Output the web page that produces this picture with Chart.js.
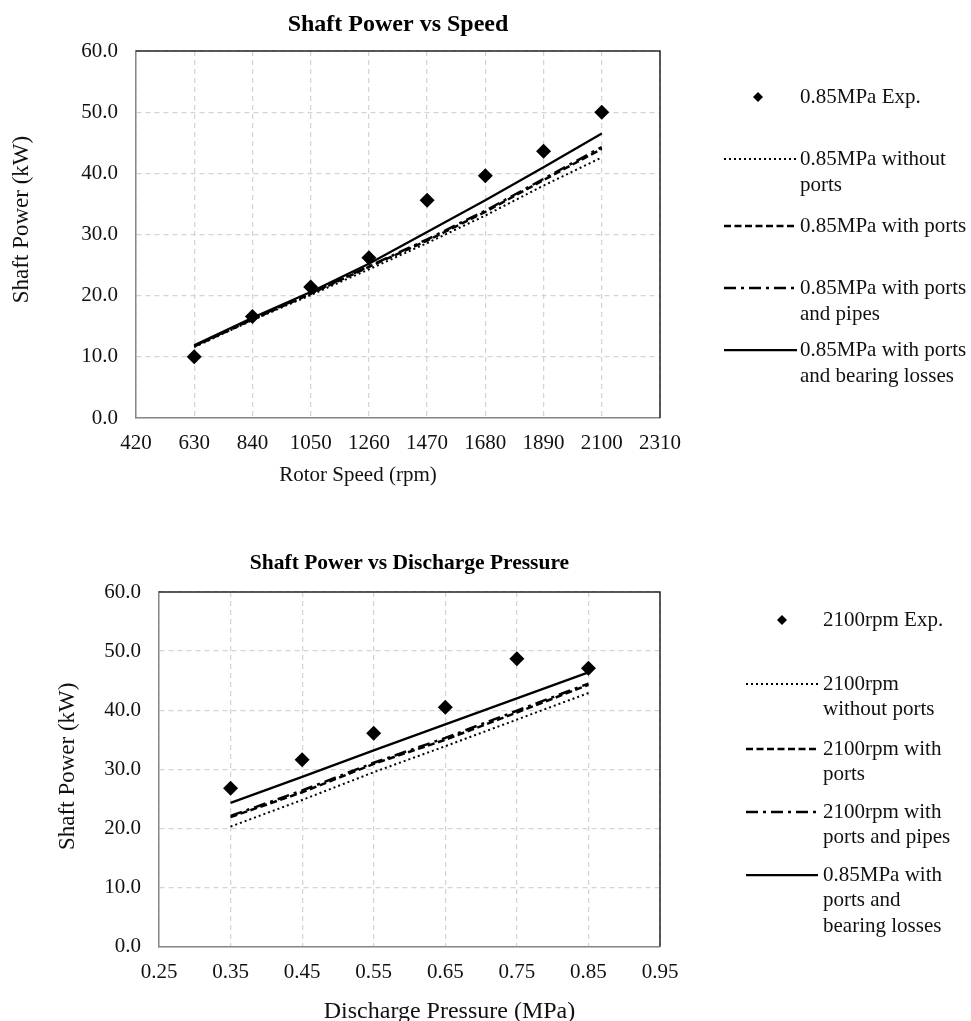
<!DOCTYPE html>
<html>
<head>
<meta charset="utf-8">
<script src="https://cdn.jsdelivr.net/npm/chart.js@4.4.1/dist/chart.umd.min.js"></script>
<style>
  html, body { margin: 0; padding: 0; background: #fff; }
  body { width: 971px; height: 1021px; position: relative; overflow: hidden; }
  .box { position: absolute; left: 0; width: 971px; }
</style>
</head>
<body>
<div class="box" style="top:0;height:500px"><canvas id="speedChart"></canvas></div>
<div class="box" style="top:500px;height:521px"><canvas id="pressureChart"></canvas></div>
<script>
// --- data ---
const powerTicks = [0, 10, 20, 30, 40, 50, 60];

const speedTicks = [420, 630, 840, 1050, 1260, 1470, 1680, 1890, 2100, 2310];
const speedRpm = [630, 840, 1050, 1260, 1470, 1680, 1890, 2100];
const speedExp = [10.0, 16.6, 21.4, 26.2, 35.6, 39.6, 43.6, 50.0];
const speedNoPorts = [11.6, 16.0, 20.1, 24.3, 28.6, 33.1, 38.0, 42.6];
const speedPorts = [11.7, 16.1, 20.3, 24.7, 29.0, 33.7, 38.9, 44.0];
const speedPipes = [11.8, 16.2, 20.4, 24.8, 29.2, 33.9, 39.1, 44.3];
const speedBearing = [11.9, 16.4, 20.6, 25.2, 30.4, 35.6, 41.0, 46.5];
const speedLabels = [
    '0.85MPa Exp.',
    '0.85MPa without\nports',
    '0.85MPa with ports',
    '0.85MPa with ports\nand pipes',
    '0.85MPa with ports\nand bearing losses'
];

const pressureTicks = [0.25, 0.35, 0.45, 0.55, 0.65, 0.75, 0.85, 0.95];
const pressureMPa = [0.35, 0.45, 0.55, 0.65, 0.75, 0.85];
const pressureExp = [26.8, 31.6, 36.1, 40.5, 48.7, 47.1];
const pressureNoPorts = [20.3, 24.8, 29.5, 33.9, 38.4, 42.9];
const pressurePorts = [21.9, 26.1, 30.9, 35.0, 39.6, 44.3];
const pressurePipes = [22.1, 26.4, 31.1, 35.3, 39.9, 44.5];
const pressureBearing = [24.3, 28.7, 33.2, 37.6, 42.0, 46.4];
const pressureLabels = [
    '2100rpm Exp.',
    '2100rpm\nwithout ports',
    '2100rpm with\nports',
    '2100rpm with\nports and pipes',
    '0.85MPa with\nports and\nbearing losses'
];

const FONT = "'Liberation Serif', 'Times New Roman', serif";
Chart.defaults.font.family = FONT;
Chart.defaults.color = '#111';

const toPoints = (xs, ys) => xs.map((x, i) => ({ x, y: ys[i] }));

const buildDatasets = (xs, exp, noPorts, ports, pipes, bearing, labels) => {
    const line = (ys, i, dash, width) => ({
        label: labels[i],
        data: toPoints(xs, ys),
        showLine: true,
        borderColor: '#000',
        borderWidth: width,
        borderDash: dash,
        pointRadius: 0,
        fill: false,
        tension: 0
    });
    return [
        line(noPorts, 1, [2, 3], 2),
        line(ports, 2, [7, 3.5], 2.5),
        line(pipes, 3, [12, 5, 3, 5], 2.5),
        line(bearing, 4, [], 2.25),
        {
            label: labels[0],
            data: toPoints(xs, exp),
            showLine: false,
            pointStyle: 'rectRot',
            pointRadius: 7.5,
            backgroundColor: '#000',
            borderColor: '#000',
            borderWidth: 0
        }
    ];
};

// plot frame, axis titles and the side legend, Excel style
const excelLook = {
    id: 'excelLook',
    afterDraw(chart, args, o) {
        const { ctx, chartArea: a } = chart;
        ctx.save();
        ctx.strokeStyle = '#262626';
        ctx.lineWidth = 1.5;
        ctx.beginPath();
        ctx.moveTo(a.left, a.top);
        ctx.lineTo(a.right, a.top);
        ctx.lineTo(a.right, a.bottom);
        ctx.stroke();

        ctx.fillStyle = '#111';
        ctx.textBaseline = 'middle';
        ctx.textAlign = 'center';
        ctx.font = `${o.xTitle.size}px ${FONT}`;
        ctx.fillText(o.xTitle.text, (a.left + a.right) / 2 + o.xTitle.dx, o.xTitle.y);
        ctx.save();
        ctx.translate(o.yTitle.x, (a.top + a.bottom) / 2 + o.yTitle.dy);
        ctx.rotate(-Math.PI / 2);
        ctx.font = `${o.yTitle.size}px ${FONT}`;
        ctx.fillText(o.yTitle.text, 0, 0);
        ctx.restore();

        // legend order: Exp. first, then the four model lines
        const lg = o.legend;
        const ds = chart.data.datasets;
        const order = [ds[4], ds[0], ds[1], ds[2], ds[3]];
        ctx.textAlign = 'left';
        ctx.font = `${lg.size}px ${FONT}`;
        lg.ys.forEach((y, i) => {
            const d = order[i];
            if (d.showLine === false) {
                ctx.fillStyle = '#000';
                Chart.helpers.drawPoint(ctx, { pointStyle: 'rectRot', radius: 5, borderWidth: 0 }, lg.markX, y);
            } else {
                ctx.save();
                ctx.strokeStyle = '#000';
                ctx.lineWidth = d.borderWidth;
                ctx.setLineDash(d.borderDash);
                ctx.beginPath();
                ctx.moveTo(lg.x0, y);
                ctx.lineTo(lg.x1, y);
                ctx.stroke();
                ctx.restore();
            }
            ctx.fillStyle = '#111';
            d.label.split('\n').forEach((t, j) => ctx.fillText(t, lg.textX, y + j * lg.lineHeight));
        });
        ctx.restore();
    }
};

const makeChart = (id, c) => new Chart(document.getElementById(id), {
    type: 'scatter',
    data: { datasets: c.datasets },
    plugins: [excelLook],
    options: {
        responsive: true,
        maintainAspectRatio: false,
        animation: false,
        layout: { padding: { left: 0, right: 971 - c.plotRight, top: 0, bottom: 0 } },
        scales: {
            x: {
                type: 'linear',
                min: c.xTicks[0],
                max: c.xTicks[c.xTicks.length - 1],
                afterBuildTicks: (s) => { s.ticks = c.xTicks.map(v => ({ value: v })); },
                afterFit: (s) => { s.height = c.xAxisHeight; },
                ticks: { font: { size: 21 }, padding: 13, maxRotation: 0, autoSkip: false, callback: c.xFormat },
                grid: { color: '#d4d4d4', lineWidth: 1.25, drawTicks: false },
                border: { display: true, color: '#868686', width: 1.5, dash: [5, 4] }
            },
            y: {
                type: 'linear',
                min: 0,
                max: 60,
                afterBuildTicks: (s) => { s.ticks = powerTicks.map(v => ({ value: v })); },
                afterFit: (s) => { s.width = c.plotLeft; },
                ticks: { font: { size: 21 }, padding: 18, callback: v => v.toFixed(1) },
                grid: { color: '#d4d4d4', lineWidth: 1.25, drawTicks: false },
                border: { display: true, color: '#868686', width: 1.5, dash: [5, 4] }
            }
        },
        plugins: {
            legend: { display: false },
            tooltip: { enabled: false },
            title: {
                display: true,
                text: c.title,
                fullSize: false,
                color: '#000',
                font: { size: c.titleSize, weight: 'bold' },
                padding: c.titlePadding
            },
            excelLook: c.look
        }
    }
});

makeChart('speedChart', {
    datasets: buildDatasets(speedRpm, speedExp, speedNoPorts, speedPorts, speedPipes, speedBearing, speedLabels),
    xTicks: speedTicks,
    xFormat: v => String(v),
    plotLeft: 136,
    plotRight: 660,
    xAxisHeight: 82,
    title: 'Shaft Power vs Speed',
    titleSize: 24,
    titlePadding: { top: 10, bottom: 12.2 },
    look: {
        xTitle: { text: 'Rotor Speed (rpm)', size: 21, dx: -40, y: 475 },
        yTitle: { text: 'Shaft Power (kW)', size: 23, x: 22, dy: -15 },
        legend: { size: 21, lineHeight: 26, markX: 758, x0: 724, x1: 797, textX: 800, ys: [97, 159, 226, 288, 350] }
    }
});

makeChart('pressureChart', {
    datasets: buildDatasets(pressureMPa, pressureExp, pressureNoPorts, pressurePorts, pressurePipes, pressureBearing, pressureLabels),
    xTicks: pressureTicks,
    xFormat: v => v.toFixed(2),
    plotLeft: 159,
    plotRight: 660,
    xAxisHeight: 74.5,
    title: 'Shaft Power vs Discharge Pressure',
    titleSize: 21.5,
    titlePadding: { top: 50.1, bottom: 16.1 },
    look: {
        xTitle: { text: 'Discharge Pressure (MPa)', size: 24, dx: 40, y: 511.7 },
        yTitle: { text: 'Shaft Power (kW)', size: 23, x: 68, dy: -3 },
        legend: { size: 21, lineHeight: 25.5, markX: 782, x0: 746, x1: 818, textX: 823, ys: [120, 184, 249, 312, 375] }
    }
});
</script>
</body>
</html>
